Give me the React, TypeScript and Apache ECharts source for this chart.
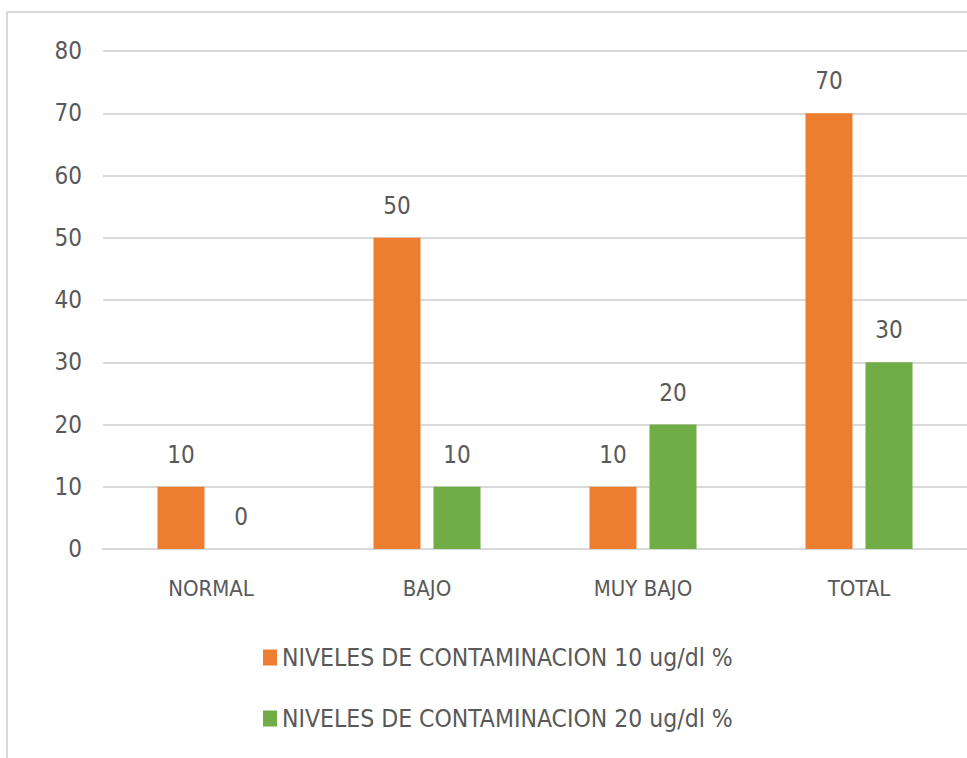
import React, { useEffect, useRef } from "react";
import * as echarts from "echarts";

const categories = ["NORMAL", "BAJO", "MUY BAJO", "TOTAL"];
const seriesNames = [
  "NIVELES DE CONTAMINACION 10 ug/dl %",
  "NIVELES DE CONTAMINACION 20 ug/dl %",
];
const values10 = [10, 50, 10, 70];
const values20 = [0, 10, 20, 30];
const yMin = 0;
const yMax = 80;
const yInterval = 10;

const FONT = "'Liberation Sans Narrow', 'DejaVu Sans Condensed', 'Open Sans', sans-serif";
const TEXT = "#595959";

export default function App() {
  const ref = useRef<HTMLDivElement>(null);
  useEffect(() => {
    if (!ref.current) return;
    const chart = echarts.init(ref.current, null, { renderer: "svg" });
    const label = {
      show: true,
      position: "top",
      distance: 20,
      color: TEXT,
      fontSize: 24,
      fontFamily: FONT,
    };
    chart.setOption({
      animation: false,
      backgroundColor: "#ffffff",
      textStyle: { fontFamily: FONT },
      graphic: [
        {
          type: "rect",
          shape: { x: 7, y: 12, width: 1000, height: 800 },
          style: { fill: "none", stroke: "#d9d9d9", lineWidth: 2 },
          silent: true,
          z: -10,
        },
      ],
      grid: { left: 103, right: -1, top: 51, bottom: 209, containLabel: false },
      legend: {
        orient: "vertical",
        left: 263,
        top: 645,
        padding: 0,
        itemWidth: 14,
        itemHeight: 16,
        itemGap: 36,
        icon: "rect",
        textStyle: { color: TEXT, fontSize: 24.5, fontFamily: FONT },
        data: seriesNames,
      },
      xAxis: {
        type: "category",
        data: categories,
        axisLine: { lineStyle: { color: "#d9d9d9", width: 2 } },
        axisTick: { show: false },
        axisLabel: { color: TEXT, fontSize: 22, fontFamily: FONT, margin: 28 },
      },
      yAxis: {
        type: "value",
        min: yMin,
        max: yMax,
        interval: yInterval,
        axisLine: { show: false },
        axisTick: { show: false },
        axisLabel: { color: TEXT, fontSize: 24, fontFamily: FONT, margin: 21 },
        splitLine: { lineStyle: { color: "#d9d9d9", width: 2 } },
      },
      series: [
        {
          name: seriesNames[0],
          type: "bar",
          data: values10,
          barWidth: 47,
          barGap: "27.7%",
          itemStyle: { color: "#ED7D31" },
          label,
        },
        {
          name: seriesNames[1],
          type: "bar",
          data: values20,
          barWidth: 47,
          barGap: "27.7%",
          itemStyle: { color: "#70AD47" },
          label,
        },
      ],
    });
    return () => chart.dispose();
  }, []);
  return (
    <div
      ref={ref}
      style={{ position: "fixed", left: 0, top: 0, width: 967, height: 758 }}
    />
  );
}
